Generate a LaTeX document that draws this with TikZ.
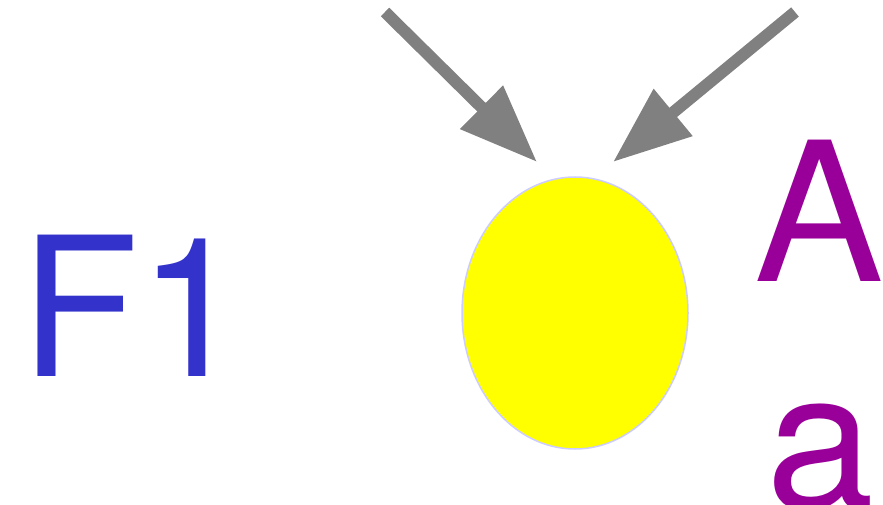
\documentclass[tikz,border=0pt]{standalone}
\usepackage{fontspec}
\setmainfont{TeX Gyre Heros}
\usepackage{xcolor}
\usepackage{tikz}
\usetikzlibrary{arrows.meta, shapes.geometric}

\definecolor{factorblue}{HTML}{3333CC}
\definecolor{allelepurple}{HTML}{990099}
\definecolor{ovalrim}{HTML}{CCCCFF}
\definecolor{ovalfill}{HTML}{FFFF00}

\begin{document}
\begin{tikzpicture}[x=1pt, y=-1pt,
  label/.style={anchor=base west, inner sep=0pt, font=\fontsize{194}{194}\selectfont},
  oval/.style={ellipse, draw=ovalrim, line width=1.5pt, fill=ovalfill, minimum width=226pt, minimum height=272pt, inner sep=0pt},
  arrow/.style={draw=gray, line width=12pt, -{Triangle[length=78pt, width=58pt]}}]

  \useasboundingbox (0,0) rectangle (883,505);

  \node (gen) [label, text=factorblue] at (20,376) {F1};
  \node (cell) [oval] at (575,313) {};
  \node (big) [label, text=allelepurple] at (754,281) {A};
  \node (small) [label, text=allelepurple] at (766,508) {a};

  \coordinate (inleft) at (385,12);
  \coordinate (tipleft) at (537,162);
  \coordinate (inright) at (795,12);
  \coordinate (tipright) at (613,162);

  \draw [arrow] (inleft) -- (tipleft);
  \draw [arrow] (inright) -- (tipright);
\end{tikzpicture}
\end{document}
